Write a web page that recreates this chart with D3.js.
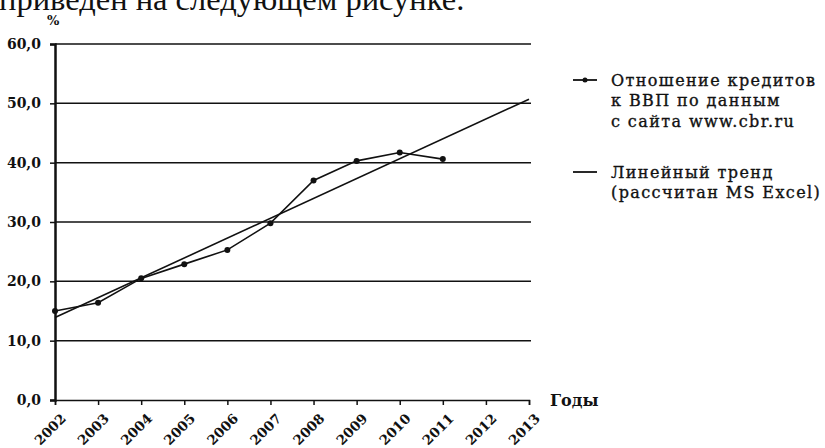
<!DOCTYPE html>
<html>
<head>
    <meta charset="utf-8">
    <script src="https://d3js.org/d3.v7.min.js"></script>
    <style>
        body { margin: 0; background: #fff; }
        svg text { font-family: "DejaVu Serif", serif; fill: #111; }
        .grid line { stroke: #111; stroke-width: 1.5px; }
        .line { fill: none; stroke: #111; stroke-width: 1.6px; }
    </style>
</head>
<body>
    <svg width="825" height="448"></svg>
    <script>
        // data
        var years = [2002, 2003, 2004, 2005, 2006, 2007, 2008, 2009, 2010, 2011, 2012, 2013];
        var credit = [15.0, 16.4, 20.5, 22.9, 25.3, 29.8, 37.0, 40.3, 41.7, 40.6];
        var trendYears = [2002, 2013];
        var trendValues = [13.9, 50.7];
        var yTicks = [0, 10, 20, 30, 40, 50, 60];
        var legendLabels = [
            ["Отношение кредитов", "к ВВП по данным", "с сайта www.cbr.ru"],
            ["Линейный тренд", "(рассчитан MS Excel)"]
        ];

        var svg = d3.select("svg"),
            margin = {top: 44, left: 55},
            width = 474,
            height = 356;

        var x = d3.scalePoint().domain(years).range([0, width]),
            y = d3.scaleLinear().domain([0, 60]).range([height, 0]);

        var fmt = function(d) { return d3.format(".1f")(d).replace(".", ","); };

        // caption line cut off at the top
        svg.append("text")
            .attr("x", -1).attr("y", 10)
            .style("font-family", "'Liberation Serif', serif")
            .style("font-size", "32.5px")
            .text("приведен на следующем рисунке.");

        var g = svg.append("g")
            .attr("transform", "translate(" + margin.left + "," + margin.top + ")");

        // horizontal grid
        g.append("g")
            .attr("class", "grid")
            .selectAll("line")
            .data(yTicks.filter(function(d) { return d > 0; }))
            .enter().append("line")
            .attr("x1", 0).attr("x2", width + 2)
            .attr("y1", function(d) { return y(d); })
            .attr("y2", function(d) { return y(d); });

        // y axis
        var yAxis = g.append("g")
            .call(d3.axisLeft(y).tickValues(yTicks).tickFormat(fmt).tickSize(5));
        yAxis.select(".domain").attr("stroke", "#111").attr("stroke-width", 2.5);
        yAxis.selectAll(".tick line").attr("stroke", "#111").attr("stroke-width", 1.5);
        yAxis.selectAll(".tick text")
            .attr("x", -14)
            .style("font-size", "14px")
            .style("font-weight", "bold");

        // x axis
        var xAxis = g.append("g")
            .attr("transform", "translate(0," + height + ")")
            .call(d3.axisBottom(x).tickSize(5));
        xAxis.select(".domain").attr("stroke", "#111").attr("stroke-width", 1.5);
        xAxis.selectAll(".tick line").attr("stroke", "#111").attr("stroke-width", 1.5);
        xAxis.selectAll(".tick text")
            .attr("text-anchor", "end")
            .attr("transform", "translate(8,16) rotate(-45)")
            .attr("x", 0).attr("y", 0).attr("dy", "0.35em")
            .style("font-size", "13.5px")
            .style("font-weight", "bold");

        g.append("text")
            .attr("x", -8).attr("y", -19)
            .style("font-size", "13px")
            .style("font-weight", "bold")
            .text("%");

        g.append("text")
            .attr("x", width + 21).attr("y", height + 6)
            .style("font-size", "16px")
            .style("font-weight", "bold")
            .text("Годы");

        // trend
        var line = d3.line()
            .x(function(d) { return x(d[0]); })
            .y(function(d) { return y(d[1]); });

        g.append("path")
            .datum(d3.zip(trendYears, trendValues))
            .attr("class", "line")
            .attr("d", line);

        // data series
        var pts = d3.zip(years.slice(0, credit.length), credit);
        g.append("path")
            .datum(pts)
            .attr("class", "line")
            .attr("d", line);

        g.selectAll(".dot")
            .data(pts)
            .enter().append("circle")
            .attr("class", "dot")
            .attr("cx", function(d) { return x(d[0]); })
            .attr("cy", function(d) { return y(d[1]); })
            .attr("r", 3)
            .attr("fill", "#111");

        // legend
        var legend = svg.append("g").attr("transform", "translate(573,0)");
        var legendY = [80, 172];
        legendLabels.forEach(function(lines, i) {
            var item = legend.append("g").attr("transform", "translate(0," + legendY[i] + ")");
            item.append("line")
                .attr("x1", 0).attr("x2", 24)
                .attr("stroke", "#111").attr("stroke-width", 1.8);
            if (i === 0) item.append("circle").attr("cx", 12).attr("r", 2.5).attr("fill", "#111");
            item.selectAll("text")
                .data(lines)
                .enter().append("text")
                .attr("x", 38)
                .attr("y", function(d, j) { return j * 20.5; })
                .attr("dy", "0.35em")
                .style("font-size", "16px")
                .style("letter-spacing", "1.4px")
                .style("stroke", "#111")
                .style("stroke-width", "0.35px")
                .text(function(d) { return d; });
        });
    </script>
</body>
</html>
